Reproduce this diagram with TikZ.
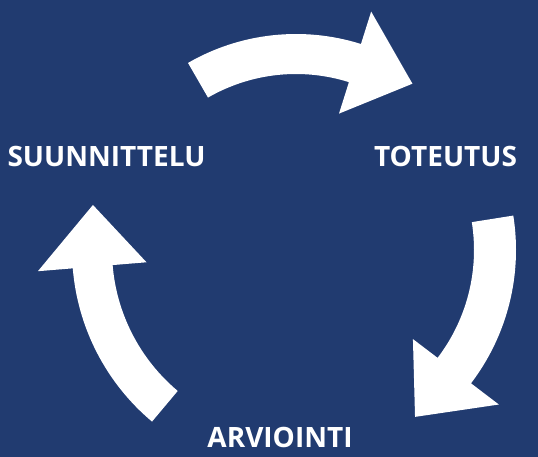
\documentclass[tikz,border=0pt]{standalone}
\usepackage{fontspec}
\setmainfont{Open Sans}
\definecolor{pohja}{RGB}{33,59,112}

\begin{document}
\begin{tikzpicture}[x=1pt, y=1pt]
        \tikzstyle{phase} = [text=white, font=\fontsize{28}{28}\selectfont\bfseries, anchor=base, inner sep=0pt]
        \tikzstyle{block} = [fill=white, shift={(c)}]
        \fill[pohja] (0,0) rectangle (538,457);
        \useasboundingbox (0,0) rectangle (538,457);
        \coordinate (c) at (296,207);
        \node[phase] (suunnittelu) at (106.5,290) {SUUNNITTELU};
        \node[phase] (toteutus) at (445.5,290) {TOTEUTUS};
        \node[phase] (arviointi) at (280,9) {ARVIOINTI};
        % suunnittelu -> toteutus
        \fill[block] (120:216) arc[start angle=120, end angle=72.5, radius=216]
                -- (72.5:250) -- (55:203) -- (72.5:143) -- (72.5:176)
                arc[start angle=72.5, end angle=120, radius=176] -- cycle;
        % toteutus -> arviointi
        \fill[block] (9:220) arc[start angle=9, end angle=-37.3, radius=220]
                -- (-37.3:255) -- (-54.5:205) -- (-37.3:147) -- (-37.3:178)
                arc[start angle=-37.3, end angle=9, radius=178] -- cycle;
        % arviointi -> suunnittelu
        \fill[block] (230:224) arc[start angle=230, end angle=184.7, radius=224]
                -- (184.7:259) -- (167.5:208) -- (184.7:150) -- (184.7:184)
                arc[start angle=184.7, end angle=230, radius=184] -- cycle;
\end{tikzpicture}
\end{document}
